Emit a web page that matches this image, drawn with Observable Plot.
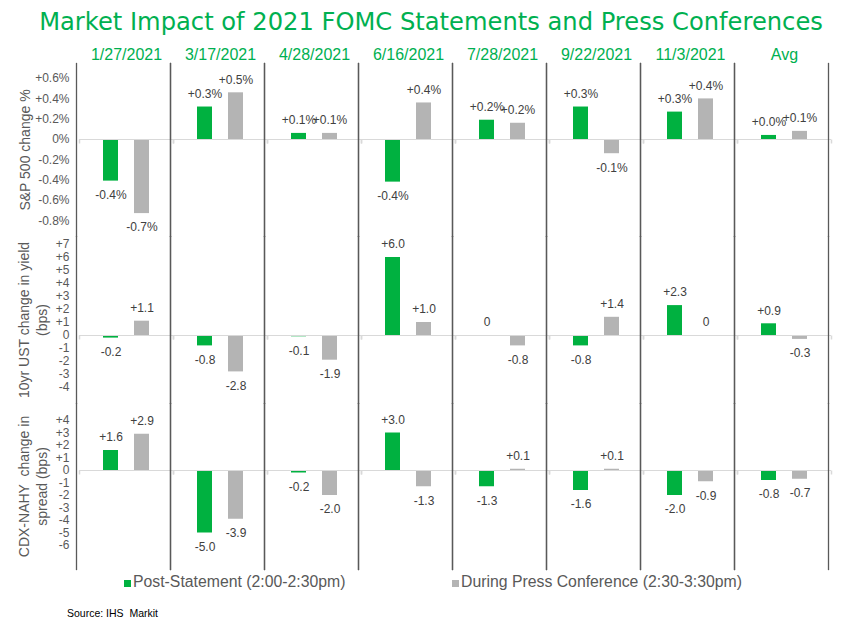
<!DOCTYPE html>
<html>
<head>
<meta charset="utf-8">
<script src="https://cdn.jsdelivr.net/npm/d3@7"></script>
<script src="https://cdn.jsdelivr.net/npm/@observablehq/plot@0.6"></script>
<style>
  html, body { margin: 0; padding: 0; background: #fff; }
  body { width: 862px; height: 627px; position: relative; overflow: hidden; font-family: "Liberation Sans", Arial, sans-serif; }
  #title { position: absolute; left: 0; top: 7px; width: 862px; text-align: center; font-family: "DejaVu Sans", Verdana, sans-serif; font-size: 24.2px; line-height: 30px; color: #00B050; }
  #charts { position: absolute; left: 0; top: 42px; }
  #charts svg { display: block; }
  .sw { position: absolute; width: 7px; height: 7px; }
  .lg { position: absolute; font-size: 15.8px; line-height: 18px; color: #595959; white-space: nowrap; }
  #source { position: absolute; left: 67px; top: 607px; font-size: 10.5px; color: #000; white-space: pre; }
</style>
</head>
<body>
<div id="title">Market Impact of 2021 FOMC Statements and Press Conferences</div>
<div id="charts"></div>
<div class="sw" style="left:124px; top:580px; background:#00B140;"></div>
<div class="lg" id="lg1" style="left:133px; top:573px;"></div>
<div class="sw" style="left:452px; top:580px; background:#B4B4B4;"></div>
<div class="lg" id="lg2" style="left:461px; top:573px;"></div>
<div id="source">Source: IHS  Markit</div>
<script>
const dates = ["1/27/2021", "3/17/2021", "4/28/2021", "6/16/2021", "7/28/2021", "9/22/2021", "11/3/2021", "Avg"];
const seriesNames = ["Post-Statement (2:00-2:30pm)", "During Press Conference (2:30-3:30pm)"];
const seriesColors = ["#00B140", "#B4B4B4"];

// S&P 500 change %
const spxPost  = [-0.41, 0.32, 0.06, -0.42, 0.19, 0.32, 0.27, 0.04];
const spxPress = [-0.73, 0.46, 0.06, 0.36, 0.16, -0.14, 0.40, 0.08];
// 10yr UST change in yield (bps)
const ustPost  = [-0.2, -0.8, -0.1, 6.0, 0, -0.8, 2.3, 0.9];
const ustPress = [1.1, -2.8, -1.9, 1.0, -0.8, 1.4, 0, -0.3];
// CDX-NAHY change in spread (bps)
const cdxPost  = [1.6, -5.0, -0.2, 3.0, -1.3, -1.6, -2.0, -0.8];
const cdxPress = [2.9, -3.9, -2.0, -1.3, 0.1, 0.1, -0.9, -0.7];

const spxTicks = [-0.8, -0.6, -0.4, -0.2, 0, 0.2, 0.4, 0.6];
const ustTicks = [-4, -3, -2, -1, 0, 1, 2, 3, 4, 5, 6, 7];
const cdxTicks = [-6, -5, -4, -3, -2, -1, 0, 1, 2, 3, 4];

const spxTitle = "S&P 500 change %";
const ustTitle = "10yr UST change in yield\n(bps)";
const cdxTitle = "CDX-NAHY  change in\nspread (bps)";

document.getElementById("lg1").textContent = seriesNames[0];
document.getElementById("lg2").textContent = seriesNames[1];

const signed = (v, digits) => (v > 0 ? "+" : "") + (digits == null ? String(v) : v.toFixed(digits));
const valueLabel = (suffix) => (d) => d.value === 0 ? "0" : signed(d.value, 1) + suffix;
const tickLabel = (suffix) => (v) => v === 0 ? "0" + suffix : signed(Math.round(v * 10) / 10) + suffix;

const tickSymbol = { draw(context) { context.moveTo(0, 0); context.lineTo(0, 4); } };

function panel({post, press, ticks, suffix, domain, height, marginTop, title, titleDx, header}) {
  const data = dates.flatMap((d, i) => [
    {date: d, series: seriesNames[0], value: post[i]},
    {date: d, series: seriesNames[1], value: press[i]}
  ]);
  const marks = [
    Plot.barY(data, {fx: "date", x: "series", y: "value", fill: "series"}),
    Plot.ruleY([0], {stroke: "#D9D9D9", strokeWidth: 1}),
    Plot.dot([0], {y: (d) => d, frameAnchor: "left", symbol: tickSymbol, stroke: "#D9D9D9", fill: "none"}),
    Plot.dot([0], {y: (d) => d, frameAnchor: "right", symbol: tickSymbol, stroke: "#D9D9D9", fill: "none"}),
    Plot.frame({anchor: "left", stroke: "#595959", strokeWidth: 1.3, dx: -3}),
    Plot.frame({anchor: "right", stroke: "#595959", strokeWidth: 1.3, dx: -3}),
    Plot.text(data, {filter: (d) => d.value >= 0, fx: "date", x: "series", y: "value", text: valueLabel(suffix), dy: -13, fill: "#404040", fontSize: 12}),
    Plot.text(data, {filter: (d) => d.value < 0, fx: "date", x: "series", y: "value", text: valueLabel(suffix), dy: 14, fill: "#404040", fontSize: 12}),
    Plot.axisY(ticks, {tickSize: 0, tickPadding: 10, tickFormat: tickLabel(suffix), fontSize: 12, fill: "#595959", label: null}),
    Plot.text([{fx: dates[0], t: title}], {fx: "fx", text: "t", frameAnchor: "left", textAnchor: "middle", lineAnchor: "middle", rotate: -90, dx: titleDx, fontSize: 14, lineHeight: 1.3, fill: "#595959"})
  ];
  if (header) {
    marks.push(Plot.axisFx({anchor: "top", tickSize: 0, tickPadding: 4, fontSize: 16, fill: "#00B050", label: null}));
  }
  return Plot.plot({
    width: 862,
    height,
    marginLeft: 77,
    marginRight: 29,
    marginTop,
    marginBottom: 0,
    style: {fontFamily: "'Liberation Sans', Arial, sans-serif", background: "white", overflow: "visible", color: "#595959"},
    fx: {domain: dates, padding: 0, axis: header ? undefined : null, label: null},
    x: {domain: seriesNames, paddingInner: 0.524, paddingOuter: 0.762, axis: null},
    y: {domain, axis: null},
    color: {domain: seriesNames, range: seriesColors},
    marks
  });
}

const charts = document.getElementById("charts");
charts.appendChild(panel({post: spxPost, press: spxPress, ticks: spxTicks, suffix: "%", domain: [-0.9557, 0.7488], height: 194, marginTop: 21, title: spxTitle, titleDx: -55, header: true}));
charts.appendChild(panel({post: ustPost, press: ustPress, ticks: ustTicks, suffix: "", domain: [-5.231, 7.615], height: 167, marginTop: 0, title: ustTitle, titleDx: -47, header: false}));
charts.appendChild(panel({post: cdxPost, press: cdxPress, ticks: cdxTicks, suffix: "", domain: [-7.92, 5.36], height: 166, marginTop: 0, title: cdxTitle, titleDx: -47, header: false}));
</script>
</body>
</html>
